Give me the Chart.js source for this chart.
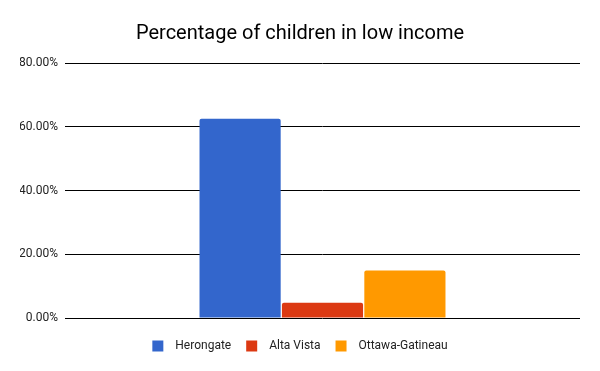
<!DOCTYPE html>
<html>
<head>
<meta charset="utf-8">
<script src="https://cdn.jsdelivr.net/npm/chart.js@4"></script>
<style>
  html, body { margin:0; padding:0; background:#fff; }
  #wrap { width:600px; height:371px; }
</style>
</head>
<body>
<div id="wrap"><canvas id="chart"></canvas></div>
<script>
const categories = [""];
const seriesNames = ["Herongate", "Alta Vista", "Ottawa-Gatineau"];
const seriesValues = [[62.5], [4.8], [14.9]];
const seriesColors = ["#3366cc", "#dc3912", "#ff9900"];
const yTicks = [0, 20, 40, 60, 80];

Chart.defaults.font.family = "Roboto, Arial, sans-serif";
Chart.defaults.color = "#222";

const ctx = document.getElementById("chart").getContext("2d");
new Chart(ctx, {
  type: "bar",
  data: {
    labels: categories,
    datasets: seriesNames.map((name, i) => ({
      label: name,
      data: seriesValues[i],
      backgroundColor: seriesColors[i],
      borderRadius: 2,
      categoryPercentage: 0.48,
      barPercentage: 0.985,
    })),
  },
  options: {
    responsive: true,
    maintainAspectRatio: false,
    animation: false,
    layout: { padding: { left: 20, right: 20, top: 0, bottom: 9 } },
    plugins: {
      title: {
        display: true,
        text: "Percentage of children in low income",
        color: "#000",
        font: { size: 20, weight: "normal" },
        padding: { top: 22, bottom: 17 },
      },
      legend: {
        position: "bottom",
        labels: {
          color:"#222", font:{ size:12 }, boxWidth:11, boxHeight:11, padding:15,
          generateLabels: (chart) =>
            Chart.defaults.plugins.legend.labels.generateLabels(chart)
              .map(l => ({ ...l, text: "  " + l.text })),
        },
      },
      tooltip: { enabled: false },
    },
    scales: {
      x: {
        display: true,
        grid: { display: false },
        border: { display: false },
        ticks: { display: false },
        afterFit: (s) => { s.height = 7; },
      },
      y: {
        min: yTicks[0],
        max: yTicks[yTicks.length - 1],
        afterBuildTicks: (s) => { s.ticks = yTicks.map(v => ({ value: v })); },
        afterFit: (s) => { s.width = 45; },
        border: { display: false },
        grid: { color: "#000", drawTicks: false },
        ticks: {
          padding: 7,
          color: "#222",
          font: { size: 12 },
          callback: (v) => v.toFixed(2) + "%",
        },
      },
    },
  },
});
</script>
</body>
</html>
